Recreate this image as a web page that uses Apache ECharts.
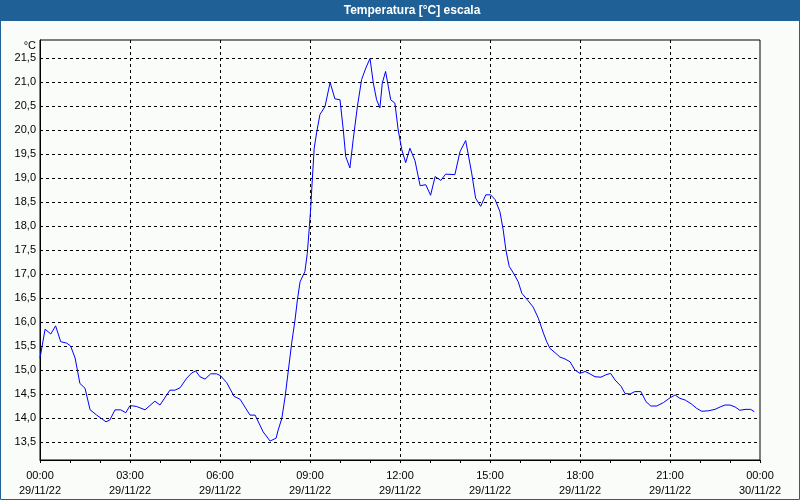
<!DOCTYPE html>
<html>
<head>
<meta charset="utf-8">
<script src="https://cdn.jsdelivr.net/npm/echarts@6/dist/echarts.min.js"></script>
<style>
html,body{margin:0;padding:0;background:#fafcfa;}
#chart{width:800px;height:500px;}
</style>
</head>
<body>
<div id="chart"></div>
<script>
// hours since 00:00 29/11/22
const hours = [0.00,0.17,0.36,0.52,0.69,0.89,1.02,1.17,1.33,1.50,1.67,1.89,2.20,2.33,2.50,2.69,2.86,3.00,3.22,3.50,
  3.83,4.00,4.33,4.50,4.67,4.89,5.06,5.19,5.33,5.50,5.69,5.89,6.02,6.22,6.47,6.67,7.00,7.17,7.44,7.67,
  7.87,7.94,8.06,8.17,8.28,8.39,8.50,8.58,8.67,8.83,8.91,8.98,9.02,9.08,9.14,9.22,9.33,9.50,9.67,9.83,
  10.00,10.11,10.19,10.33,10.44,10.58,10.72,10.86,11.00,11.11,11.22,11.33,11.41,11.52,11.61,11.69,11.83,11.94,12.06,12.19,
  12.33,12.50,12.67,12.86,13.02,13.17,13.36,13.52,13.83,14.00,14.19,14.39,14.52,14.69,14.86,15.02,15.17,15.33,15.44,15.53,
  15.64,15.78,15.94,16.06,16.26,16.44,16.61,16.78,16.89,17.00,17.17,17.33,17.50,17.67,17.83,18.00,18.17,18.33,18.50,18.70,
  18.86,19.02,19.17,19.37,19.50,19.67,19.83,20.03,20.20,20.36,20.56,20.78,21.00,21.17,21.33,21.52,21.72,21.89,22.06,22.28,
  22.50,22.67,22.83,23.00,23.17,23.33,23.50,23.69,23.81];
const temps = [15.25,15.85,15.75,15.92,15.59,15.56,15.50,15.25,14.72,14.62,14.17,14.06,13.92,13.96,14.17,14.17,14.11,14.26,14.24,14.17,
  14.35,14.27,14.58,14.58,14.63,14.83,14.94,14.98,14.86,14.81,14.92,14.92,14.88,14.74,14.45,14.39,14.06,14.06,13.71,13.52,
  13.58,13.75,13.99,14.44,15.00,15.56,16.04,16.46,16.84,17.05,17.43,17.99,18.34,19.00,19.62,19.94,20.32,20.49,20.99,20.65,
  20.63,20.00,19.45,19.21,19.80,20.49,21.05,21.29,21.49,20.98,20.63,20.46,20.98,21.22,20.91,20.63,20.56,20.00,19.59,19.32,
  19.62,19.36,18.84,18.86,18.64,19.03,18.95,19.08,19.07,19.55,19.78,19.10,18.58,18.41,18.65,18.65,18.55,18.30,17.92,17.50,
  17.16,17.02,16.84,16.60,16.45,16.31,16.08,15.77,15.59,15.45,15.36,15.27,15.23,15.17,15.00,14.93,14.97,14.92,14.86,14.85,
  14.90,14.93,14.79,14.66,14.51,14.50,14.55,14.55,14.34,14.25,14.25,14.32,14.42,14.48,14.41,14.37,14.29,14.20,14.14,14.15,
  14.18,14.23,14.27,14.27,14.23,14.16,14.18,14.18,14.13];
const xTickTimes = ['00:00','03:00','06:00','09:00','12:00','15:00','18:00','21:00','00:00'];
const xTickDates = ['29/11/22','29/11/22','29/11/22','29/11/22','29/11/22','29/11/22','29/11/22','29/11/22','30/11/22'];
const yTickValues = [13.5,14.0,14.5,15.0,15.5,16.0,16.5,17.0,17.5,18.0,18.5,19.0,19.5,20.0,20.5,21.0,21.5];
const yTickLabels = ['13,5','14,0','14,5','15,0','15,5','16,0','16,5','17,0','17,5','18,0','18,5','19,0','19,5','20,0','20,5','21,0','21,5'];
const titleText = 'Temperatura [°C] escala';
const unitText = '°C';

const chart = echarts.init(document.getElementById('chart'), null, {renderer: 'canvas'});
const FONT = '"Liberation Sans", Arial, sans-serif';
const T = 'rgba(0,0,0,0)';
const option = {
  backgroundColor: '#fafcfa',
  animation: false,
  textStyle: {fontFamily: FONT},
  grid: {left: 40, right: 40, top: 40, bottom: 40, show: true, borderColor: '#000', borderWidth: 1, backgroundColor: 'transparent'},
  graphic: [
    {type: 'rect', shape: {x: 0, y: 0, width: 800, height: 21}, style: {fill: '#1f6096'}, z: 10},
    {type: 'text', x: 412, y: 11, style: {text: titleText, fill: '#fff', font: 'bold 12px ' + FONT, align: 'center', verticalAlign: 'middle'}, z: 11},
    {type: 'rect', shape: {x: 0.5, y: 0.5, width: 799, height: 499}, style: {fill: 'none', stroke: '#1f6096', lineWidth: 1}, z: 10},
    {type: 'text', x: 36, y: 46, style: {text: unitText, fill: '#000', font: '11px ' + FONT, align: 'right', verticalAlign: 'middle'}, z: 11}
  ],
  xAxis: {
    type: 'value', min: 0, max: 24, interval: 3,
    axisLine: {show: true, lineStyle: {color: '#000', width: 1}},
    axisTick: {show: true, length: 3, lineStyle: {color: '#000'}},
    minorTick: {show: true, splitNumber: 3, length: 3, lineStyle: {color: '#000'}},
    splitLine: {show: true, showMinLine: false, showMaxLine: false, lineStyle: {color: '#000', type: [3, 3], width: 1}},
    axisLabel: {
      margin: 8, color: '#000', fontSize: 11, fontFamily: FONT, lineHeight: 15,
      showMinLabel: true, showMaxLabel: true,
      formatter: function (v) { const i = Math.round(v / 3); return xTickTimes[i] + '\n' + xTickDates[i]; }
    }
  },
  yAxis: {
    type: 'value', min: 13.125, max: 21.875, interval: 0.125,
    axisLine: {show: true, lineStyle: {color: '#000', width: 1}},
    axisTick: {show: false},
    splitLine: {show: true, lineStyle: {color: [T, T, T, '#000'], type: [3, 3], width: 1}},
    axisLabel: {
      margin: 4, color: '#000', fontSize: 11, fontFamily: FONT,
      formatter: function (v) {
        for (let i = 0; i < yTickValues.length; i++) { if (Math.abs(v - yTickValues[i]) < 1e-6) return yTickLabels[i]; }
        return '';
      }
    }
  },
  series: [{
    type: 'line',
    data: hours.map((h, i) => [h, temps[i]]),
    showSymbol: false,
    symbol: 'none',
    lineStyle: {color: '#0000ff', width: 1},
    smooth: false
  }]
};
chart.setOption(option);
</script>
</body>
</html>
